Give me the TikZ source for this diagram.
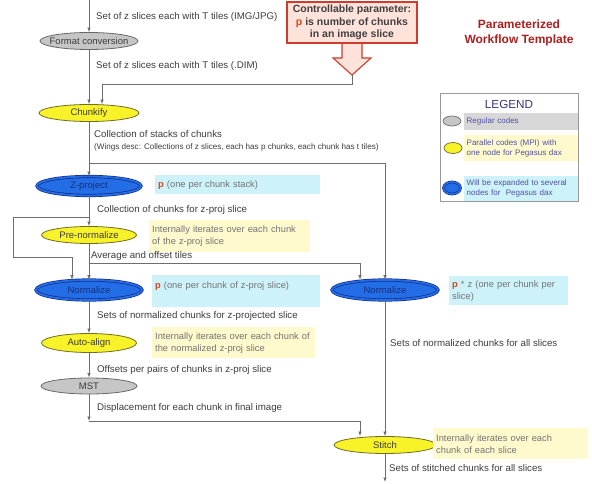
\documentclass[tikz,border=0pt]{standalone}
\usepackage{fontspec}
\setmainfont{Liberation Sans}
\usetikzlibrary{arrows.meta,shapes.geometric,calc}
\definecolor{ellgray}{RGB}{198,198,198}
\definecolor{ellgrayd}{RGB}{105,105,105}
\definecolor{ellyellow}{RGB}{248,242,40}
\definecolor{ellyellowd}{RGB}{110,110,40}
\definecolor{ellblue}{RGB}{35,110,230}
\definecolor{ellblued}{RGB}{20,45,140}
\definecolor{txtblue}{RGB}{25,45,120}
\definecolor{txtdark}{RGB}{60,60,60}
\definecolor{txtinfo}{RGB}{115,115,115}
\definecolor{linegray}{RGB}{110,110,110}
\definecolor{infocyan}{RGB}{205,242,250}
\definecolor{infoyellow}{RGB}{255,250,205}
\definecolor{legray}{RGB}{215,215,215}
\definecolor{legtext}{RGB}{80,80,165}
\definecolor{legtitle}{RGB}{55,55,125}
\definecolor{calfill}{RGB}{255,226,218}
\definecolor{calred}{RGB}{205,60,45}
\definecolor{titlered}{RGB}{175,30,30}
\definecolor{pred}{RGB}{215,70,30}
\newcommand{\elltext}[1]{\makebox[0pt]{#1}}
\newcommand{\pp}{\textcolor{pred}{\textbf{p}}}
\begin{document}
\begin{tikzpicture}[x=1pt,y=-1pt,
  conn/.style={draw=linegray, line width=0.7pt},
  arr/.style={-{Latex[length=4.5pt,width=3.5pt]}},
  ell/.style={ellipse, inner sep=0pt, line width=0.8pt, font=\fontsize{9.5}{11}\selectfont},
  grayell/.style={ell, fill=ellgray, draw=ellgrayd, text=txtdark},
  yell/.style={ell, fill=ellyellow, draw=ellyellowd, text=txtdark},
  bell/.style={ell, fill=ellblue, draw=ellblued, double=ellblue, double distance=1.8pt, line width=0.7pt, text=txtblue},
  lbl/.style={anchor=west, inner sep=0pt, text=txtdark, font=\fontsize{9.7}{11.5}\selectfont},
  info/.style={anchor=north west, inner xsep=3pt, inner ysep=2pt, align=left, text=txtinfo, font=\fontsize{9.3}{12}\selectfont},
  icyan/.style={info, fill=infocyan},
  iyellow/.style={info, fill=infoyellow},
  legrow/.style={anchor=north west, inner xsep=2.5pt, inner ysep=1pt, align=left, text=legtext, font=\fontsize{8}{10}\selectfont, text width=109pt},
]
\useasboundingbox (0,0) rectangle (592,484);

% callout block arrow and box
\draw[fill=calfill, draw=calred, line width=1.1pt, line join=miter]
  (342,40) -- (342,58) -- (333,58) -- (352,75) -- (371,58) -- (362,58) -- (362,40);
\node[fill=calfill, draw=calred, line width=1.1pt, minimum width=130pt, minimum height=41pt,
  align=center, inner sep=1pt, font=\fontsize{10.5}{12.3}\selectfont\bfseries, text=black!75] (cp) at (352,22.5)
  {Controllable parameter:\\\textcolor{pred}{p} is number of chunks\\in an image slice};
\coordinate (tip) at (352,75);

% title
\node[align=center, font=\fontsize{12}{15}\selectfont\bfseries, text=titlered] (title) at (519,32.5)
  {Parameterized\\Workflow Template};

% legend
\node[draw=black!40, line width=0.6pt, minimum width=138pt, minimum height=108pt, anchor=north west, inner sep=0pt] (legbox) at (440,93) {};
\node[text=legtitle, font=\fontsize{11.7}{13}\selectfont] (legt) at (509,104) {LEGEND};
\node[legrow, fill=legray, minimum height=17pt] (lr1) at (464,113) {Regular codes};
\node[legrow, fill=infoyellow, minimum height=26pt] (lr2) at (464,135) {Parallel codes (MPI) with\\one node for Pegasus dax};
\node[legrow, fill=infocyan, minimum height=25pt] (lr3) at (464,176) {Will be expanded to several\\nodes for\ \ Pegasus dax};
\node[ellipse, fill=ellgray, draw=ellgrayd, line width=0.7pt, minimum width=18pt, minimum height=10pt, inner sep=0pt] (le1) at (452,121) {};
\node[ellipse, fill=ellyellow, draw=ellyellowd, line width=0.7pt, minimum width=18pt, minimum height=11pt, inner sep=0pt] (le2) at (453,148) {};
\node[ellipse, fill=ellblue, draw=ellblued, double=ellblue, double distance=1.5pt, line width=0.6pt, minimum width=17pt, minimum height=12pt, inner sep=0pt] (le3) at (452,188) {};

% process nodes
\node[grayell, minimum width=98pt, minimum height=17pt] (fc) at (89,41) {\elltext{Format conversion}};
\node[yell, minimum width=100pt, minimum height=17pt] (ch) at (89,113) {\elltext{Chunkify}};
\node[bell, minimum width=104pt, minimum height=19pt] (zp) at (89,186) {\elltext{Z-project}};
\node[yell, minimum width=95pt, minimum height=17pt] (pn) at (89,235) {\elltext{Pre-normalize}};
\node[bell, minimum width=106pt, minimum height=20pt] (nl) at (89,290) {\elltext{Normalize}};
\node[yell, minimum width=95pt, minimum height=19pt] (aa) at (89,343) {\elltext{Auto-align}};
\node[grayell, minimum width=96pt, minimum height=16pt] (mst) at (89,386) {\elltext{MST}};
\node[bell, minimum width=106pt, minimum height=20pt] (nr) at (385,290) {\elltext{Normalize}};
\node[yell, minimum width=102pt, minimum height=17pt] (st) at (385,445) {\elltext{Stitch}};

% info boxes
\node[icyan, text width=159pt, minimum height=19pt] (i1) at (155,175) {\pp{} (one per chunk stack)};
\node[iyellow, text width=155pt, minimum height=32pt] (i2) at (149,220) {Internally iterates over each chunk\\of the z-proj slice};
\node[icyan, text width=162pt, minimum height=32pt] (i3) at (152,275) {\pp{} (one per chunk of z-proj slice)\\\mbox{}};
\node[iyellow, text width=157pt, minimum height=31pt] (i4) at (152,327) {\makebox[0pt][l]{Internally iterates over each chunk of}\\the normalized z-proj slice};
\node[icyan, text width=113pt, minimum height=29pt] (i5) at (449,276) {\pp{} * z (one per chunk per\\slice)};
\node[iyellow, text width=149pt, minimum height=31pt] (i6) at (433,428) {Internally iterates over each\\chunk of each slice};

% edge labels
\node[lbl] (l1) at (96,17) {Set of z slices each with T tiles (IMG/JPG)};
\node[lbl] (l2) at (96,66) {Set of z slices each with T tiles (.DIM)};
\node[lbl] (l3) at (94,134) {Collection of stacks of chunks};
\node[lbl, font=\fontsize{8.1}{9}\selectfont] (l4) at (94,147) {(Wings desc: Collections of z slices, each has p chunks, each chunk has t tiles)};
\node[lbl] (l5) at (97,210) {Collection of chunks for z-proj slice};
\node[lbl] (l6) at (91,256) {Average and offset tiles};
\node[lbl] (l7) at (97,316) {Sets of normalized chunks for z-projected slice};
\node[lbl] (l8) at (97,370) {Offsets per pairs of chunks in z-proj slice};
\node[lbl] (l9) at (97,408) {Displacement for each chunk in final image};
\node[lbl] (l10) at (390,343) {Sets of normalized chunks for all slices};
\node[lbl] (l11) at (389,468) {Sets of stitched chunks for all slices};

% connectors
\coordinate (top) at (89,0);
\coordinate (b1) at (89,163);
\coordinate (b2) at (89,217);
\coordinate (b3) at (89,263);
\coordinate (c3) at (89,421);
\coordinate (bot) at (385,482);
\draw[conn,arr] (top) -- (fc);
\draw[conn,arr] (fc) -- (ch);
\draw[conn,arr] (tip) -- (352,84) -| ([xshift=13pt]ch.north);
\draw[conn,arr] (ch) -- (zp);
\draw[conn,arr] (b1) -| (nr.north);
\draw[conn,arr] (zp) -- (pn);
\draw[conn,arr] (b2) -- (13,217) -- (13,257) -| ([xshift=-17pt]nl.north);
\draw[conn,arr] (pn) -- (nl);
\draw[conn,arr] (b3) -| ([xshift=-25pt]nr.north);
\draw[conn,arr] (nl) -- (aa);
\draw[conn,arr] (aa) -- (mst);
\draw[conn,arr] (mst) -- (c3);
\draw[conn,arr] (c3) -| ([xshift=-25pt]st.north);
\draw[conn,arr] (nr) -- (st);
\draw[conn,arr] (st) -- (bot);
\end{tikzpicture}
\end{document}
